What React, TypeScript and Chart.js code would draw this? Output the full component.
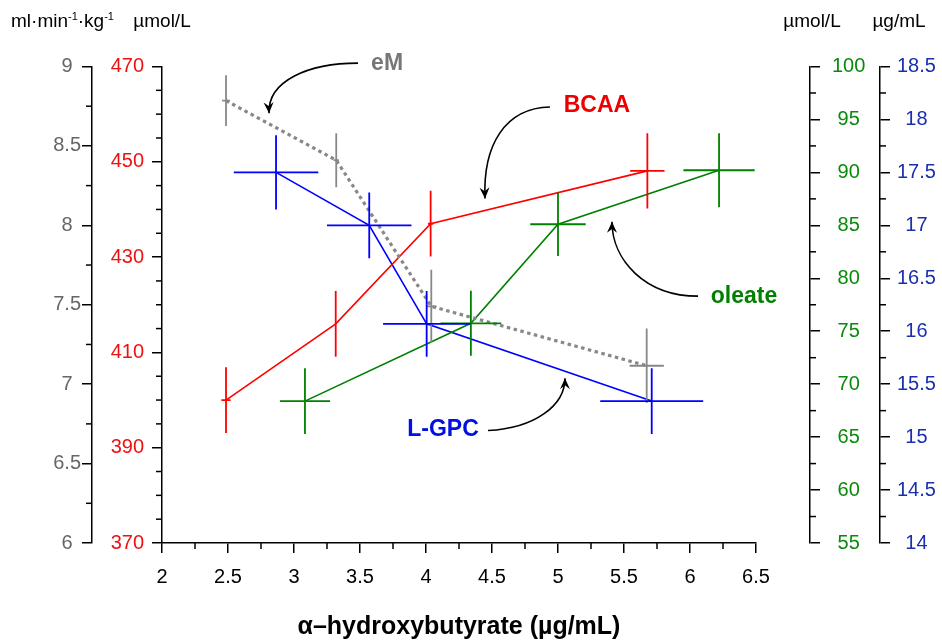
import React, { useEffect, useRef } from 'react';
import { Chart, registerables } from 'chart.js';

Chart.register(...registerables);

// ---- data (x: α-hydroxybutyrate, µg/mL) ----
const emX = [2.485, 3.32, 4.04, 5.672];
const emY = [8.785, 8.41, 7.49, 7.116];
const emXErr = [0.03, 0.02, 0.04, 0.13];
const emYErr = [0.16, 0.17, 0.23, 0.235];

const bcaaX = [2.485, 3.316, 4.035, 5.677];
const bcaaY = [400, 416, 437, 448.1];
const bcaaXErr = [0.035, 0.0, 0.02, 0.13];
const bcaaYErr = [6.9, 6.9, 6.9, 7.9];

const oleateX = [3.083, 4.34, 5.0, 6.22];
const oleateY = [68.4, 75.75, 85.1, 90.2];
const oleateXErr = [0.19, 0.23, 0.21, 0.27];
const oleateYErr = [3.1, 3.07, 3.0, 3.5];

const lgpcX = [2.864, 3.57, 4.005, 5.71];
const lgpcY = [17.5, 17.0, 16.07, 15.34];
const lgpcXErr = [0.32, 0.32, 0.33, 0.39];
const lgpcYErr = [0.35, 0.31, 0.31, 0.31];

// ---- axis ranges ----
const xRange = [2, 6.5, 0.5, 0.25]; // min, max, major, minor
const emRange = [6, 9, 0.5, 0.25];
const bcaaRange = [370, 470, 20, 5];
const oleateRange = [55, 100, 5, 2.5];
const lgpcRange = [14, 18.5, 0.5, 0.25];

// ---- annotations (x, BCAA-axis units) ----
const labelTexts = ['eM', 'BCAA', 'oleate', 'L-GPC'];
const labelColors = ['#777777', '#ee0000', '#008000', '#0010e0'];
const labelPos = [
  [3.705, 470.6],
  [5.295, 461.7],
  [6.409, 421.8],
  [4.129, 393.7],
];
const arrowPaths = [
  [[3.485, 470.7], [3.11, 470.7], [2.8, 467.0], [2.811, 460.2]],
  [[4.939, 461.5], [4.598, 461.3], [4.43, 453.5], [4.447, 442.3]],
  [[6.061, 421.8], [5.659, 421.8], [5.409, 429.4], [5.409, 437.4]],
  [[4.47, 393.6], [4.826, 394.1], [5.053, 398.9], [5.053, 404.6]],
];

const FONT = '"Liberation Sans", Arial, Helvetica, sans-serif';

const toPts = (xs: number[], ys: number[]) => xs.map((x, i) => ({ x, y: ys[i] }));
const fmt = (v: any) => String(+Number(v).toFixed(3));

const errorBars = {
  id: 'errorBars',
  afterDatasetsDraw(chart: any) {
    const ctx = chart.ctx;
    chart.data.datasets.forEach((ds: any, i: number) => {
      const meta = chart.getDatasetMeta(i);
      const xs = chart.scales[meta.xAxisID];
      const ys = chart.scales[meta.yAxisID];
      ctx.save();
      ctx.strokeStyle = ds.errColor;
      ctx.lineWidth = 1.8;
      ctx.setLineDash([]);
      ds.data.forEach((p: any, j: number) => {
        const ex = ds.xErr[j];
        const ey = ds.yErr[j];
        const cx = xs.getPixelForValue(p.x);
        const cy = ys.getPixelForValue(p.y);
        ctx.beginPath();
        ctx.moveTo(xs.getPixelForValue(p.x - ex), cy);
        ctx.lineTo(xs.getPixelForValue(p.x + ex), cy);
        ctx.moveTo(cx, ys.getPixelForValue(p.y - ey));
        ctx.lineTo(cx, ys.getPixelForValue(p.y + ey));
        ctx.stroke();
      });
      ctx.restore();
    });
  },
};

const minorTicks = {
  id: 'minorTicks',
  afterDraw(chart: any) {
    const ctx = chart.ctx;
    const specs: [string, number[]][] = [
      ['x', xRange],
      ['yEm', emRange],
      ['yBcaa', bcaaRange],
      ['yOleate', oleateRange],
      ['yLgpc', lgpcRange],
    ];
    ctx.save();
    ctx.strokeStyle = '#000';
    ctx.lineWidth = 1.5;
    for (const [id, r] of specs) {
      const s = chart.scales[id];
      const [mn, mx, major, minor] = r;
      const n = Math.round((mx - mn) / minor);
      for (let k = 0; k <= n; k++) {
        const v = mn + k * minor;
        const q = (v - mn) / major;
        if (Math.abs(q - Math.round(q)) < 1e-6) continue;
        const p = s.getPixelForValue(v);
        ctx.beginPath();
        if (id === 'x') {
          ctx.moveTo(p, s.top);
          ctx.lineTo(p, s.top + 6);
        } else if (s.position === 'left') {
          ctx.moveTo(s.right, p);
          ctx.lineTo(s.right - 6, p);
        } else {
          ctx.moveTo(s.left, p);
          ctx.lineTo(s.left + 6, p);
        }
        ctx.stroke();
      }
    }
    ctx.restore();
  },
};

const annotations = {
  id: 'annotations',
  afterDraw(chart: any) {
    const ctx = chart.ctx;
    const xs = chart.scales.x;
    const ys = chart.scales.yBcaa;
    const P = (a: number[]) => [xs.getPixelForValue(a[0]), ys.getPixelForValue(a[1])];
    ctx.save();
    // arrows
    ctx.strokeStyle = '#000';
    ctx.fillStyle = '#000';
    ctx.lineWidth = 1.6;
    arrowPaths.forEach((path) => {
      const [p0, p1, p2, p3] = path.map(P);
      ctx.beginPath();
      ctx.moveTo(p0[0], p0[1]);
      ctx.bezierCurveTo(p1[0], p1[1], p2[0], p2[1], p3[0], p3[1]);
      ctx.stroke();
      const ang = Math.atan2(p3[1] - p2[1], p3[0] - p2[0]);
      const L = 11;
      const W = 5;
      ctx.save();
      ctx.translate(p3[0], p3[1]);
      ctx.rotate(ang);
      ctx.beginPath();
      ctx.moveTo(0, 0);
      ctx.lineTo(-L, -W);
      ctx.lineTo(-L * 0.65, 0);
      ctx.lineTo(-L, W);
      ctx.closePath();
      ctx.fill();
      ctx.restore();
    });
    // labels
    ctx.font = 'bold 23px ' + FONT;
    ctx.textAlign = 'center';
    ctx.textBaseline = 'middle';
    labelTexts.forEach((t, i) => {
      const [px, py] = P(labelPos[i]);
      ctx.fillStyle = labelColors[i];
      ctx.fillText(t, px, py);
    });
    // unit titles on top of axes
    const yTop = 22;
    ctx.fillStyle = '#000';
    ctx.textBaseline = 'middle';
    const g = chart.scales.yEm;
    const big = '19px ' + FONT;
    const small = '11px ' + FONT;
    const parts: [string, boolean][] = [['ml·min', false], ['-1', true], ['·kg', false], ['-1', true]];
    let cx = g.right - 81;
    ctx.textAlign = 'left';
    for (const [txt, sup] of parts) {
      ctx.font = sup ? small : big;
      ctx.fillText(txt, cx, sup ? yTop - 5 : yTop);
      cx += ctx.measureText(txt).width;
    }
    ctx.font = big;
    ctx.textAlign = 'center';
    ctx.fillText('µmol/L', chart.scales.yBcaa.right, yTop);
    ctx.fillText('µmol/L', chart.scales.yOleate.left + 2, yTop);
    ctx.fillText('µg/mL', chart.scales.yLgpc.left + 19, yTop);
    ctx.restore();
  },
};

const yAxis = (
  r: number[],
  position: string,
  weight: number,
  color: string,
  width: number,
  padding: number,
  crossAlign: string
) => ({
  type: 'linear',
  position,
  weight,
  min: r[0],
  max: r[1],
  afterFit: (s: any) => {
    s.width = width;
  },
  grid: { drawOnChartArea: false, drawTicks: true, tickLength: 10, color: '#000', lineWidth: 1.5 },
  border: { display: true, color: '#000', width: 1.5 },
  ticks: {
    stepSize: r[2],
    color,
    padding,
    crossAlign,
    callback: fmt,
    font: { size: 20, family: FONT },
  },
});

export default function App() {
  const ref = useRef<HTMLCanvasElement>(null);
  useEffect(() => {
    const datasets: any[] = [
      {
        label: 'eM',
        data: toPts(emX, emY),
        xErr: emXErr,
        yErr: emYErr,
        yAxisID: 'yEm',
        borderColor: '#888888',
        errColor: '#888888',
        borderWidth: 3.2,
        borderDash: [3.5, 3.5],
        pointRadius: 0,
      },
      {
        label: 'BCAA',
        data: toPts(bcaaX, bcaaY),
        xErr: bcaaXErr,
        yErr: bcaaYErr,
        yAxisID: 'yBcaa',
        borderColor: '#ff0000',
        errColor: '#ff0000',
        borderWidth: 1.6,
        pointRadius: 0,
      },
      {
        label: 'oleate',
        data: toPts(oleateX, oleateY),
        xErr: oleateXErr,
        yErr: oleateYErr,
        yAxisID: 'yOleate',
        borderColor: '#008000',
        errColor: '#008000',
        borderWidth: 1.6,
        pointRadius: 0,
      },
      {
        label: 'L-GPC',
        data: toPts(lgpcX, lgpcY),
        xErr: lgpcXErr,
        yErr: lgpcYErr,
        yAxisID: 'yLgpc',
        borderColor: '#0000ff',
        errColor: '#0000ff',
        borderWidth: 1.6,
        pointRadius: 0,
      },
    ];
    const chart = new Chart(ref.current as HTMLCanvasElement, {
      type: 'line',
      data: { datasets },
      plugins: [errorBars, minorTicks, annotations],
      options: {
        animation: false,
        responsive: false,
        devicePixelRatio: 1,
        layout: { padding: { top: 66.5, left: 0, right: 0, bottom: 0 } },
        plugins: { legend: { display: false }, tooltip: { enabled: false } },
        elements: { line: { tension: 0 } },
        scales: {
          x: {
            type: 'linear',
            position: 'bottom',
            min: xRange[0],
            max: xRange[1],
            afterFit: (s: any) => {
              s.height = 97;
            },
            grid: { drawOnChartArea: false, drawTicks: true, tickLength: 10, color: '#000', lineWidth: 1.5 },
            border: { display: true, color: '#000', width: 1.5 },
            ticks: { stepSize: xRange[2], color: '#000', padding: 12, callback: fmt, font: { size: 20, family: FONT } },
            title: {
              display: true,
              text: 'α–hydroxybutyrate (µg/mL)',
              color: '#000',
              font: { size: 25, weight: 'bold', family: FONT, lineHeight: 1.0 },
              padding: { top: 0, bottom: 0 },
            },
          },
          yEm: yAxis(emRange, 'left', 2, '#666666', 92, 1, 'center'),
          yBcaa: yAxis(bcaaRange, 'left', 1, '#ee1111', 70, 8, 'near'),
          spacer: {
            type: 'linear',
            position: 'right',
            weight: 0,
            afterFit: (s: any) => {
              s.width = 54;
            },
            grid: { display: false, drawOnChartArea: false },
            border: { display: false },
            ticks: { display: false },
          },
          yOleate: yAxis(oleateRange, 'right', 1, '#0a8a0a', 70, 12, 'center'),
          yLgpc: yAxis(lgpcRange, 'right', 2, '#1a2fb0', 62, 7, 'center'),
        },
      } as any,
    } as any);
    return () => chart.destroy();
  }, []);
  return (
    <div style={{ position: 'fixed', left: 0, top: 0, width: 942, height: 640, background: '#fff' }}>
      <canvas ref={ref} width={942} height={640} style={{ width: 942, height: 640, display: 'block' }} />
    </div>
  );
}
